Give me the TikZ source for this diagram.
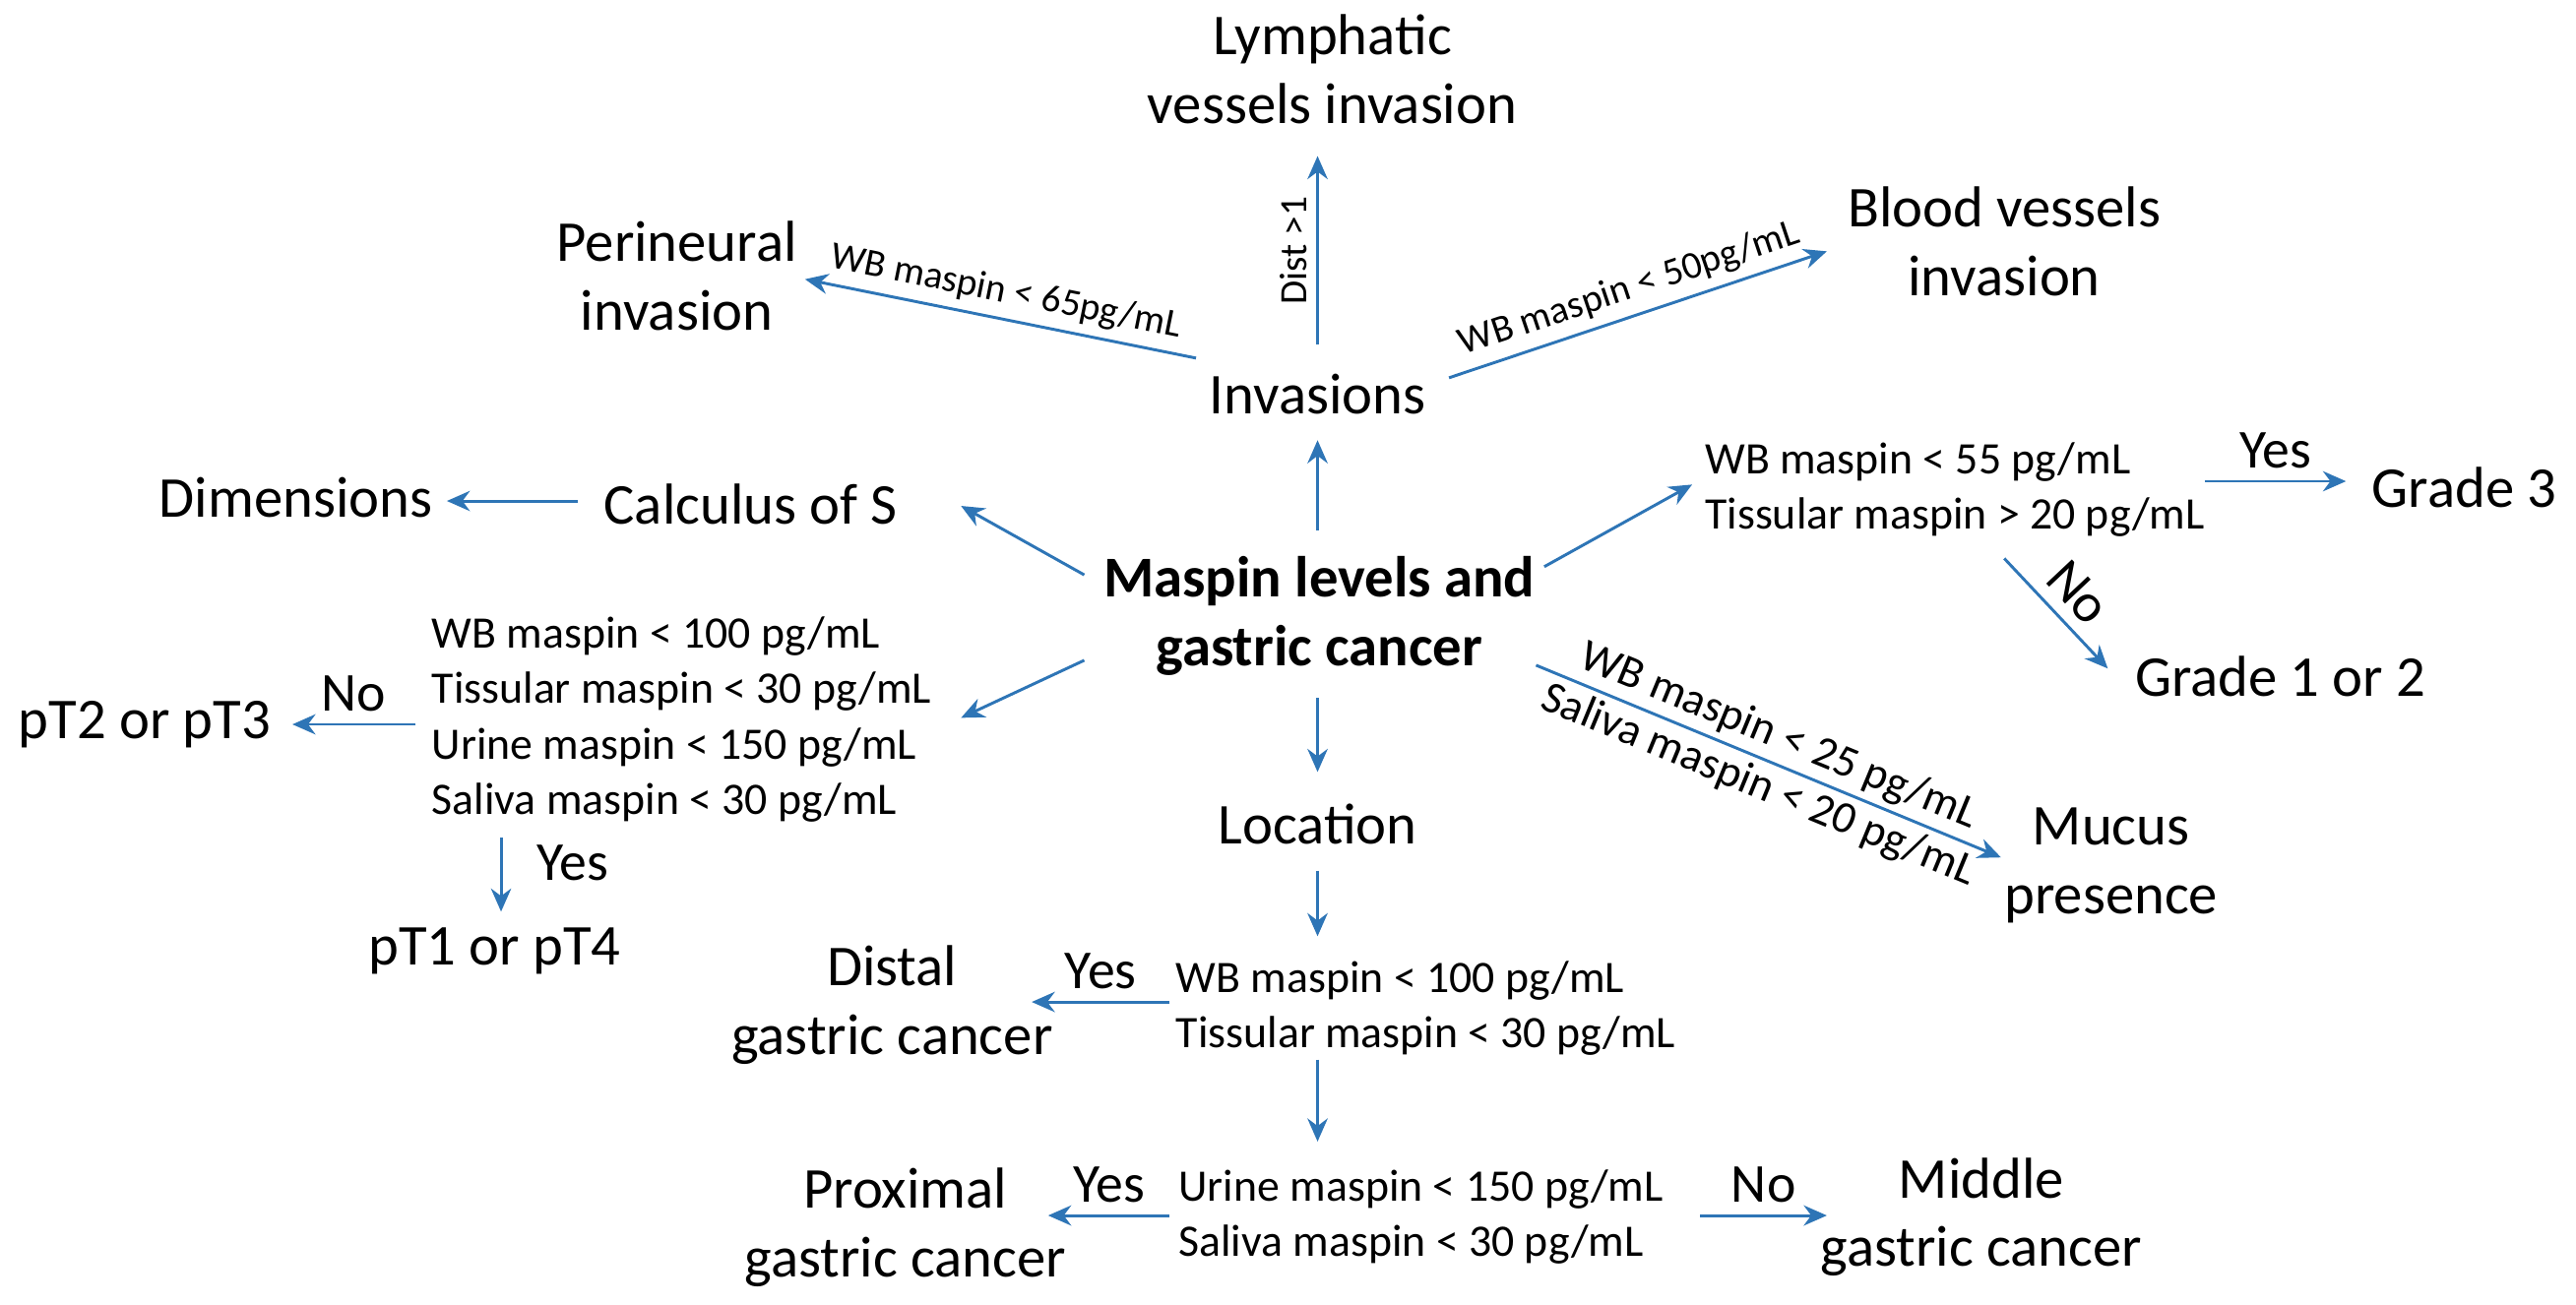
\documentclass[tikz,border=0pt]{standalone}
\usepackage{fontspec}
\setmainfont{Carlito}
\usetikzlibrary{arrows.meta}
\definecolor{ab}{HTML}{2E75B6}
\begin{document}
\begin{tikzpicture}[x=0.01cm,y=-0.01cm,
 big/.style={font=\fontsize{10}{11.9}\selectfont,align=center,inner sep=1pt},
 sm/.style={font=\fontsize{7.8}{9.6}\selectfont,align=left,inner sep=1pt},
 lab/.style={font=\fontsize{6.7}{8}\selectfont,inner sep=1.5pt},
 mlab/.style={font=\fontsize{7.8}{9.6}\selectfont,inner sep=1pt},
 yn/.style={font=\fontsize{9.5}{11}\selectfont,inner sep=2pt},
 ar/.style={draw=ab,line width=0.5pt,-{Stealth[length=4pt,width=3.5pt]}}]
\useasboundingbox (0,0) rectangle (1568,794);
\node[big] (lym) at (811,42) {Lymphatic\\vessels invasion};
\node[big] (inv) at (802,240) {Invasions};
\node[big] (per) at (412,168) {Perineural\\invasion};
\node[big] (blood) at (1220,147) {Blood vessels\\invasion};
\node[big,font=\bfseries\fontsize{10}{11.9}\selectfont] (mas) at (803,375) {Maspin levels and\\gastric cancer};
\node[big] (calc) at (457,307) {Calculus of S};
\node[big] (dim) at (180,303) {Dimensions};
\node[sm] (gb) at (1190,298) {WB maspin < 55 pg/mL\\Tissular maspin > 20 pg/mL};
\node[big] (g3) at (1500,297) {Grade 3};
\node[big] (g12) at (1388,412) {Grade 1 or 2};
\node[sm] (pb) at (415,438) {WB maspin < 100 pg/mL\\Tissular maspin < 30 pg/mL\\Urine maspin < 150 pg/mL\\Saliva maspin < 30 pg/mL};
\node[big] (pt23) at (88,441) {pT2 or pT3};
\node[big] (pt14) at (301,579) {pT1 or pT4};
\node[big] (loc) at (802,502) {Location};
\node[big] (muc) at (1285,527) {Mucus\\presence};
\node[sm] (lb) at (868,614) {WB maspin < 100 pg/mL\\Tissular maspin < 30 pg/mL};
\node[big] (dist) at (543,612) {Distal\\gastric cancer};
\node[sm] (ub) at (865,741) {Urine maspin < 150 pg/mL\\Saliva maspin < 30 pg/mL};
\node[big] (prox) at (551,747) {Proximal\\gastric cancer};
\node[big] (mid) at (1206,741) {Middle\\gastric cancer};

\coordinate (a1) at (802,210); \coordinate (b1) at (802,95);
\coordinate (a2) at (728,218); \coordinate (b2) at (490,170);
\coordinate (a3) at (882,230); \coordinate (b3) at (1112,153);
\coordinate (a4) at (802,323); \coordinate (b4) at (802,268);
\coordinate (a5) at (660,350); \coordinate (b5) at (585,308);
\coordinate (a6) at (352,305); \coordinate (b6) at (272,305);
\coordinate (a7) at (940,345); \coordinate (b7) at (1030,295);
\coordinate (a8) at (1342,293); \coordinate (b8) at (1428,293);
\coordinate (a9) at (1220,340); \coordinate (b9) at (1283,407);
\coordinate (a10) at (660,402); \coordinate (b10) at (585,437);
\coordinate (a11) at (253,441); \coordinate (b11) at (178,441);
\coordinate (a12) at (305,510); \coordinate (b12) at (305,555);
\coordinate (a13) at (802,425); \coordinate (b13) at (802,470);
\coordinate (a14) at (935,405); \coordinate (b14) at (1218,522);
\coordinate (a15) at (802,530); \coordinate (b15) at (802,570);
\coordinate (a16) at (712,610); \coordinate (b16) at (628,610);
\coordinate (a17) at (802,645); \coordinate (b17) at (802,695);
\coordinate (a18) at (712,740); \coordinate (b18) at (638,740);
\coordinate (a19) at (1035,740); \coordinate (b19) at (1112,740);

\draw[ar] (a1) -- node[lab,midway,sloped,above]{Dist >1} (b1);
\draw[ar] (a2) -- node[lab,midway,sloped,above]{WB maspin < 65pg/mL} (b2);
\draw[ar] (a3) -- node[lab,midway,sloped,above]{WB maspin < 50pg/mL} (b3);
\draw[ar] (a4) -- (b4);
\draw[ar] (a5) -- (b5);
\draw[ar] (a6) -- (b6);
\draw[ar] (a7) -- (b7);
\draw[ar] (a8) -- node[yn,midway,above]{Yes} (b8);
\draw[ar] (a9) -- node[yn,midway,sloped,above]{No} (b9);
\draw[ar] (a10) -- (b10);
\draw[ar] (a11) -- node[yn,midway,above]{No} (b11);
\draw[ar] (a12) -- node[yn,midway,right,xshift=4pt,yshift=2pt]{Yes} (b12);
\draw[ar] (a13) -- (b13);
\draw[ar] (a14) -- node[mlab,midway,sloped,above]{WB maspin < 25 pg/mL} node[mlab,midway,sloped,below]{Saliva maspin < 20 pg/mL} (b14);
\draw[ar] (a15) -- (b15);
\draw[ar] (a16) -- node[yn,midway,above]{Yes} (b16);
\draw[ar] (a17) -- (b17);
\draw[ar] (a18) -- node[yn,midway,above]{Yes} (b18);
\draw[ar] (a19) -- node[yn,midway,above]{No} (b19);
\end{tikzpicture}
\end{document}
